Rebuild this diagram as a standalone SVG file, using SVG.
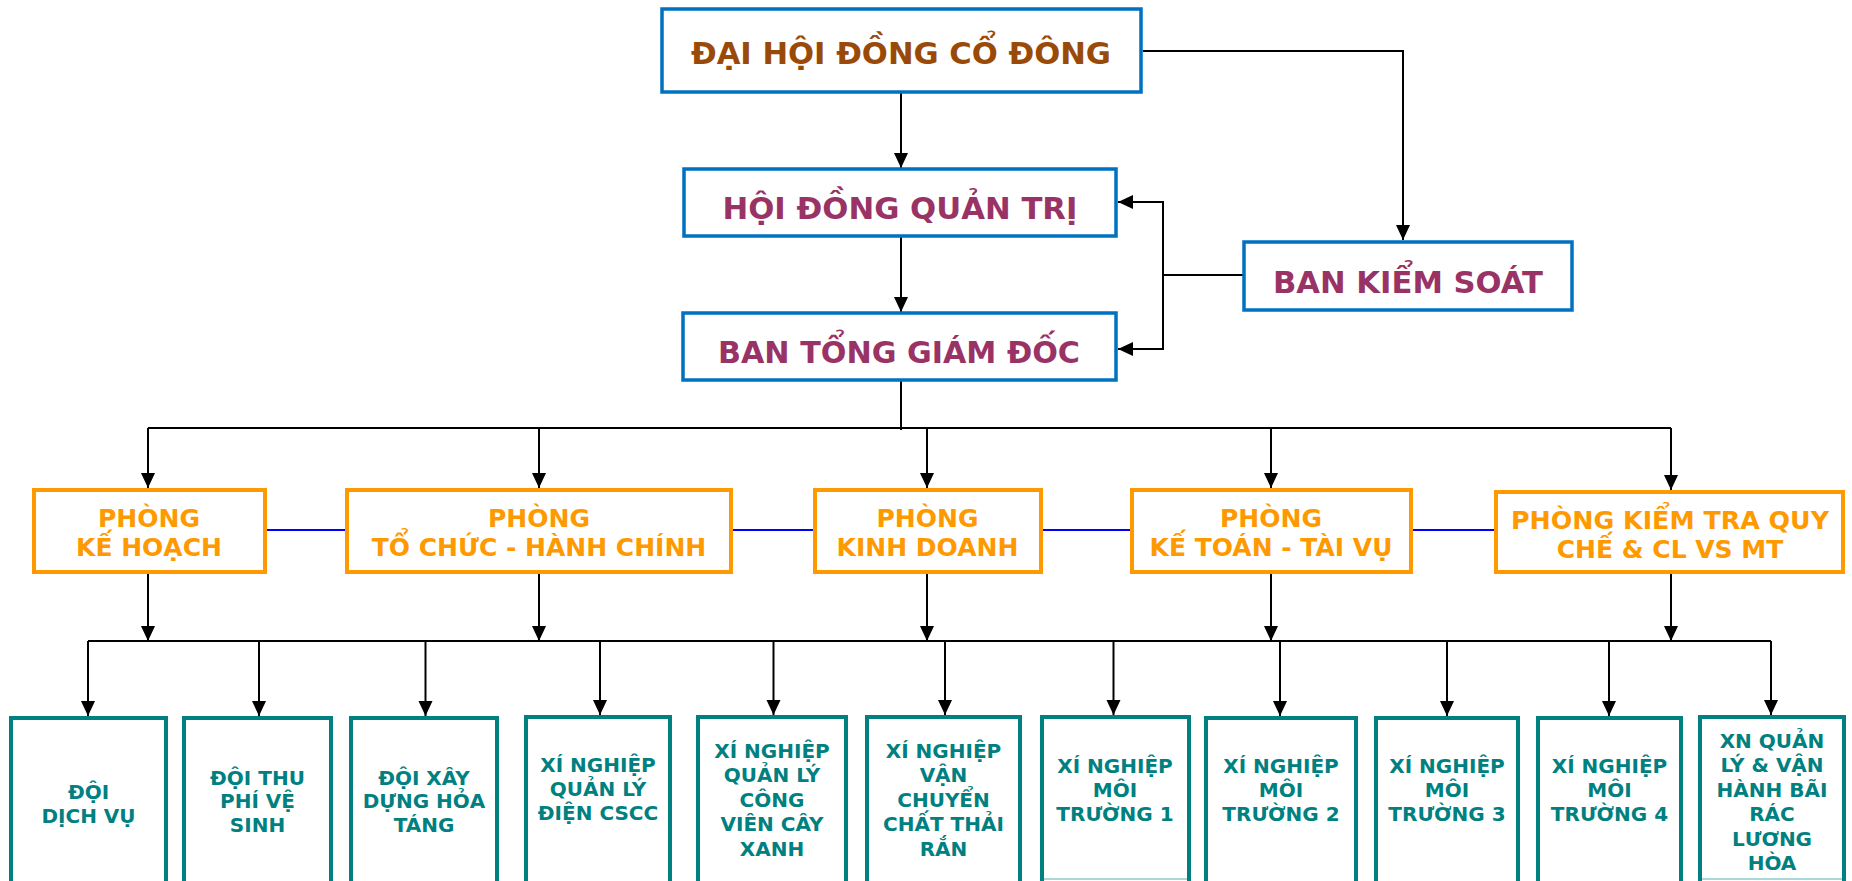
<svg xmlns="http://www.w3.org/2000/svg" width="1852" height="881" viewBox="0 0 1852 881">
<style>
.t{font-family:"DejaVu Sans","Noto Sans",sans-serif;font-weight:bold;text-anchor:middle}
.top{font-size:30px}
.brown{fill:#9A4A08}
.maroon{fill:#993366}
.org{fill:#FF9900;font-size:25px}
.teal{fill:#008080;font-size:20px}
.bb{fill:#fff;stroke:#0070C0;stroke-width:3.5}
.ob{fill:#fff;stroke:#FF9900;stroke-width:4}
.tb{fill:#fff;stroke:#008080;stroke-width:4}
.fb{fill:none;stroke:#A8D8D8;stroke-width:2}
.ln{fill:none;stroke:#000;stroke-width:2}
.ar{fill:none;stroke:#000;stroke-width:2;marker-end:url(#ah)}
.bl{fill:none;stroke:#0000FF;stroke-width:2}
</style>
<defs>
<marker id="ah" markerUnits="userSpaceOnUse" markerWidth="16" markerHeight="16" viewBox="0 0 16 16" refX="15" refY="8" orient="auto">
<path d="M0,1 L15,8 L0,15 Z" fill="#000"/>
</marker>
</defs>
<rect width="1852" height="881" fill="#fff"/>
<g id="connectors">
<path class="ar" d="M901,93 V168"/>
<path class="ar" d="M1143,51 H1403 V240"/>
<path class="ar" d="M901,236 V312"/>
<path class="ln" d="M1243,275 H1163"/>
<path class="ar" d="M1163,275 V202 H1118"/>
<path class="ar" d="M1163,275 V349 H1118"/>
<path class="ln" d="M901,380 V430"/>
<path class="ln" d="M148,428 H1671"/>
<path class="ar" d="M148,428 V488"/>
<path class="ar" d="M539,428 V488"/>
<path class="ar" d="M927,428 V488"/>
<path class="ar" d="M1271,428 V488"/>
<path class="ar" d="M1671,428 V490"/>
<path class="bl" d="M265,530 H347 M731,530 H814 M1041,530 H1131 M1411,530 H1495"/>
<path class="ar" d="M148,572 V641"/>
<path class="ar" d="M539,572 V641"/>
<path class="ar" d="M927,572 V641"/>
<path class="ar" d="M1271,572 V641"/>
<path class="ar" d="M1671,572 V641"/>
<path class="ln" d="M88,641 H1771"/>
<path class="ar" d="M88,641 V716"/>
<path class="ar" d="M259,641 V716"/>
<path class="ar" d="M425.5,641 V716"/>
<path class="ar" d="M600,641 V715"/>
<path class="ar" d="M773.5,641 V715"/>
<path class="ar" d="M945,641 V715"/>
<path class="ar" d="M1113.5,641 V715"/>
<path class="ar" d="M1280,641 V716"/>
<path class="ar" d="M1447,641 V716"/>
<path class="ar" d="M1609,641 V716"/>
<path class="ar" d="M1771,641 V715"/>
</g>
<g id="n-dhdcd"><rect class="bb" x="662" y="9" width="479" height="83"/><text class="t top brown" x="901" y="64" textLength="420" lengthAdjust="spacingAndGlyphs">ĐẠI HỘI ĐỒNG CỔ ĐÔNG</text></g>
<g id="n-hdqt"><rect class="bb" x="684" y="169" width="432" height="67"/><text class="t top maroon" x="900" y="219" textLength="355" lengthAdjust="spacingAndGlyphs">HỘI ĐỒNG QUẢN TRỊ</text></g>
<g id="n-btgd"><rect class="bb" x="683" y="313" width="433" height="67"/><text class="t top maroon" x="899" y="363" textLength="362" lengthAdjust="spacingAndGlyphs">BAN TỔNG GIÁM ĐỐC</text></g>
<g id="n-bks"><rect class="bb" x="1244" y="242" width="328" height="68"/><text class="t top maroon" x="1408" y="293" textLength="270" lengthAdjust="spacingAndGlyphs">BAN KIỂM SOÁT</text></g>
<g id="n-pkh"><rect class="ob" x="34" y="490" width="231" height="82"/><text class="t org" x="149" y="527">PHÒNG</text><text class="t org" x="149" y="556">KẾ HOẠCH</text></g>
<g id="n-ptchc"><rect class="ob" x="347" y="490" width="384" height="82"/><text class="t org" x="539" y="527">PHÒNG</text><text class="t org" x="539" y="556">TỔ CHỨC - HÀNH CHÍNH</text></g>
<g id="n-pkd"><rect class="ob" x="815" y="490" width="226" height="82"/><text class="t org" x="927.5" y="527">PHÒNG</text><text class="t org" x="927.5" y="556">KINH DOANH</text></g>
<g id="n-pkt"><rect class="ob" x="1132" y="490" width="279" height="82"/><text class="t org" x="1271" y="527">PHÒNG</text><text class="t org" x="1271" y="556">KẾ TOÁN - TÀI VỤ</text></g>
<g id="n-pkiem"><rect class="ob" x="1496" y="492" width="347" height="80"/><text class="t org" x="1670" y="529" textLength="318" lengthAdjust="spacingAndGlyphs">PHÒNG KIỂM TRA QUY</text><text class="t org" x="1670" y="558">CHẾ &amp; CL VS MT</text></g>
<g id="n-b1"><rect class="tb" x="11" y="718" width="155" height="170"/><text class="t teal" x="88.5" y="799">ĐỘI</text><text class="t teal" x="88.5" y="823">DỊCH VỤ</text></g>
<g id="n-b2"><rect class="tb" x="184" y="718" width="147" height="170"/><text class="t teal" x="257.5" y="785">ĐỘI THU</text><text class="t teal" x="257.5" y="808">PHÍ VỆ</text><text class="t teal" x="257.5" y="832">SINH</text></g>
<g id="n-b3"><rect class="tb" x="351" y="718" width="146" height="170"/><text class="t teal" x="424" y="785">ĐỘI XÂY</text><text class="t teal" x="424" y="808">DỰNG HỎA</text><text class="t teal" x="424" y="832">TÁNG</text></g>
<g id="n-b4"><rect class="tb" x="526" y="717" width="144" height="171"/><text class="t teal" x="598" y="772">XÍ NGHIỆP</text><text class="t teal" x="598" y="796">QUẢN LÝ</text><text class="t teal" x="598" y="820">ĐIỆN CSCC</text></g>
<g id="n-b5"><rect class="tb" x="698" y="717" width="148" height="171"/><text class="t teal" x="772" y="758">XÍ NGHIỆP</text><text class="t teal" x="772" y="782">QUẢN LÝ</text><text class="t teal" x="772" y="807">CÔNG</text><text class="t teal" x="772" y="831">VIÊN CÂY</text><text class="t teal" x="772" y="856">XANH</text></g>
<g id="n-b6"><rect class="tb" x="867" y="717" width="153" height="171"/><text class="t teal" x="943.5" y="758">XÍ NGHIỆP</text><text class="t teal" x="943.5" y="782">VẬN</text><text class="t teal" x="943.5" y="807">CHUYỂN</text><text class="t teal" x="943.5" y="831">CHẤT THẢI</text><text class="t teal" x="943.5" y="856">RẮN</text></g>
<g id="n-b7"><rect class="tb" x="1042" y="717" width="147" height="171"/><path class="fb" d="M1044,879 H1187"/><text class="t teal" x="1115" y="773">XÍ NGHIỆP</text><text class="t teal" x="1115" y="797">MÔI</text><text class="t teal" x="1115" y="821">TRƯỜNG 1</text></g>
<g id="n-b8"><rect class="tb" x="1206" y="718" width="150" height="170"/><text class="t teal" x="1281" y="773">XÍ NGHIỆP</text><text class="t teal" x="1281" y="797">MÔI</text><text class="t teal" x="1281" y="821">TRƯỜNG 2</text></g>
<g id="n-b9"><rect class="tb" x="1376" y="718" width="142" height="170"/><text class="t teal" x="1447" y="773">XÍ NGHIỆP</text><text class="t teal" x="1447" y="797">MÔI</text><text class="t teal" x="1447" y="821">TRƯỜNG 3</text></g>
<g id="n-b10"><rect class="tb" x="1538" y="718" width="143" height="170"/><text class="t teal" x="1609.5" y="773">XÍ NGHIỆP</text><text class="t teal" x="1609.5" y="797">MÔI</text><text class="t teal" x="1609.5" y="821">TRƯỜNG 4</text></g>
<g id="n-b11"><rect class="tb" x="1700" y="717" width="144" height="171"/><path class="fb" d="M1702,879 H1842"/><text class="t teal" x="1772" y="748">XN QUẢN</text><text class="t teal" x="1772" y="772">LÝ &amp; VẬN</text><text class="t teal" x="1772" y="797">HÀNH BÃI</text><text class="t teal" x="1772" y="821">RÁC</text><text class="t teal" x="1772" y="846">LƯƠNG</text><text class="t teal" x="1772" y="870">HÒA</text></g>
</svg>
